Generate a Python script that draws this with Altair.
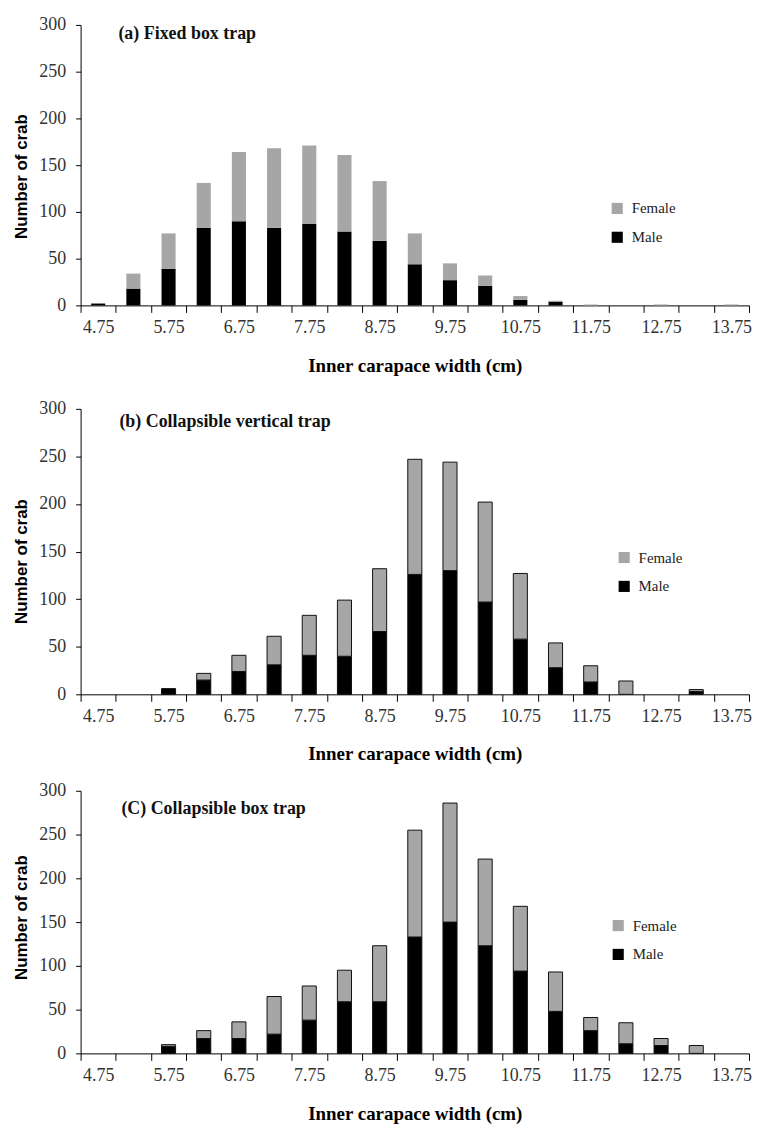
import json
import altair as alt
import pandas as pd

# ---- data ----
sizes = ["4.75", "5.25", "5.75", "6.25", "6.75", "7.25", "7.75", "8.25", "8.75", "9.25",
         "9.75", "10.25", "10.75", "11.25", "11.75", "12.25", "12.75", "13.25", "13.75"]
shown_labels = ["4.75", "5.75", "6.75", "7.75", "8.75", "9.75", "10.75", "11.75", "12.75", "13.75"]

male_a = [2, 18, 39, 83, 90, 83, 87, 79, 69, 44, 27, 21, 6, 4, 0, 0, 0, 0, 0]
female_a = [0, 16, 38, 48, 74, 85, 84, 82, 64, 33, 18, 11, 4, 1, 1, 0, 1, 0, 1]

male_b = [0, 0, 6, 15, 24, 31, 41, 40, 66, 126, 130, 97, 58, 28, 13, 0, 0, 3, 0]
female_b = [0, 0, 0, 7, 17, 30, 42, 59, 66, 121, 114, 105, 69, 26, 17, 14, 0, 2, 0]

male_c = [0, 0, 8, 17, 17, 22, 38, 59, 59, 133, 150, 123, 94, 48, 26, 11, 9, 0, 0]
female_c = [0, 0, 2, 9, 19, 43, 39, 36, 64, 122, 136, 99, 74, 45, 15, 24, 8, 9, 0]

panel_titles = ["(a) Fixed box trap", "(b) Collapsible vertical trap", "(C) Collapsible box trap"]
sexes = ["Female", "Male"]
sex_colors = ["#a6a6a6", "#000000"]
y_ticks = [0, 50, 100, 150, 200, 250, 300]
x_title = "Inner carapace width  (cm)"
y_title = "Number of crab"


def to_long(male, female):
    rows = []
    for s, m, f in zip(sizes, male, female):
        rows.append({"size": s, "sex": "Male", "count": m, "ord": 0})
        rows.append({"size": s, "sex": "Female", "count": f, "ord": 1})
    return pd.DataFrame(rows)


label_expr = "indexof(" + json.dumps(shown_labels) + ", datum.label) >= 0 ? datum.label : ''"


def panel(male, female, title, w, h, outlined, leg_x, leg_y, tx, ty, title_y, top_pad=0):
    df = to_long(male, female)
    bar_kwargs = dict(width=alt.RelativeBandSize(0.4))
    if outlined:
        bar_kwargs.update(stroke="#111111", strokeWidth=1)
    bars = alt.Chart(df).transform_filter("datum.count > 0").mark_bar(**bar_kwargs).encode(
        x=alt.X("size:N", sort=sizes,
                scale=alt.Scale(domain=sizes, paddingInner=0, paddingOuter=0),
                axis=alt.Axis(title=x_title, labelAngle=0, labelExpr=label_expr,
                              tickBand="extent", tickSize=7, labelPadding=6,
                              labelOverlap=False, labelFlush=False,
                              titleFont="Liberation Serif", titleFontWeight="bold",
                              titleFontSize=19, titlePadding=20)),
        y=alt.Y("count:Q", stack="zero",
                scale=alt.Scale(domain=[0, 300], nice=False),
                axis=alt.Axis(title=y_title, values=y_ticks, tickSize=5, labelPadding=10,
                              titleFont="Liberation Sans", titleFontWeight="bold",
                              titleFontSize=17, titlePadding=8,
                              titleX=-50, titleY=title_y)),
        color=alt.Color("sex:N", scale=alt.Scale(domain=sexes, range=sex_colors),
                        legend=alt.Legend(title=None, orient="none", legendX=leg_x, legendY=leg_y,
                                          symbolType="square", symbolSize=125,
                                          symbolStrokeWidth=0, labelFont="Liberation Serif",
                                          labelFontSize=15, labelColor="#222222",
                                          rowPadding=13, labelOffset=7, padding=0)),
        order=alt.Order("ord:Q"),
    )
    txt = alt.Chart(pd.DataFrame({"t": [title]})).mark_text(
        align="left", baseline="middle", font="Liberation Serif", fontWeight="bold",
        fontSize=18, color="#111111").encode(
        x=alt.value(tx), y=alt.value(ty), text="t:N")
    layers = [bars, txt]
    if top_pad:
        spacer = alt.Chart(pd.DataFrame({"t": [0]})).mark_rule(strokeOpacity=0, opacity=0).encode(
            x=alt.value(0), x2=alt.value(1), y=alt.value(-top_pad), y2=alt.value(-top_pad))
        layers.append(spacer)
    return alt.layer(*layers).properties(width=w, height=h)


pa = panel(male_a, female_a, panel_titles[0], 672, 282, False, 532, 177, 38, 9, 152)
pb = panel(male_b, female_b, panel_titles[1], 672, 287, True, 539, 142, 39, 13, 153, top_pad=21)
pc = panel(male_c, female_c, panel_titles[2], 672, 264, True, 533, 128, 41, 18, 127, top_pad=14)

chart = alt.vconcat(pa, pb, pc, spacing=13).resolve_scale(
    color="independent", x="independent", y="independent"
).resolve_legend(color="independent").properties(
    padding={"left": 5, "top": 5, "right": 0, "bottom": 0}
).configure_view(stroke=None).configure_axis(
    domainColor="black", tickColor="black", domainWidth=1, tickWidth=1,
    labelFont="Liberation Serif", labelFontSize=18, labelColor="#333333",
    titleColor="black", grid=False,
)

chart.save("out.html", embed_options={"renderer": "svg", "actions": False})
